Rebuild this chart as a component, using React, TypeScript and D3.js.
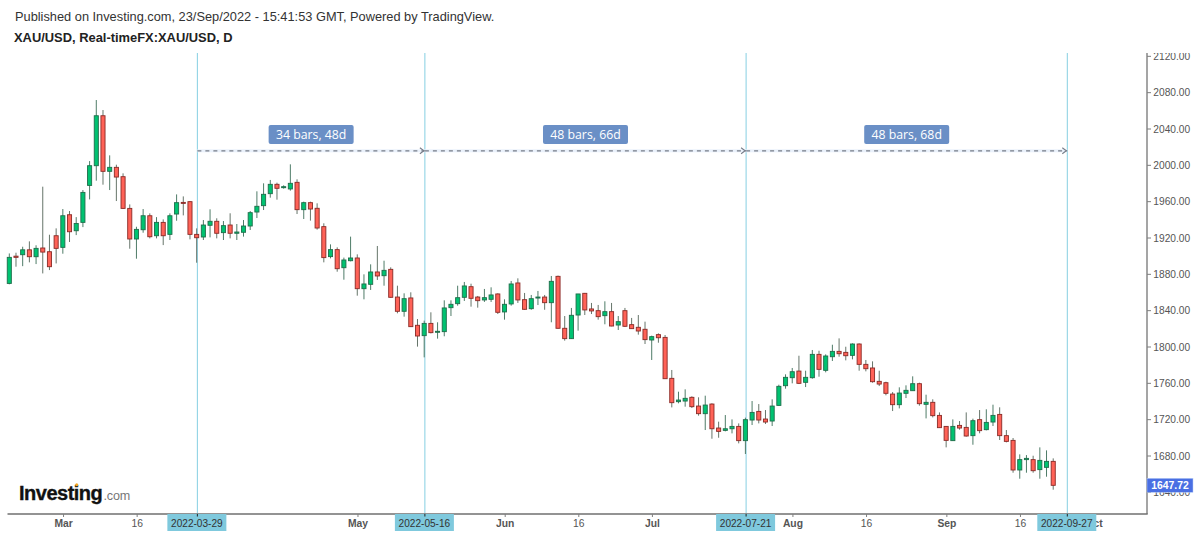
import * as d3 from "d3";

const opens = [
  1870, 1900, 1901.6, 1907, 1899.4, 1909, 1904.9, 1922.5, 1909.7, 1945.6,
  1928, 1937.2, 1977.9, 1999.6, 2054.6, 1993.4, 1997.8, 1987.5, 1952.6, 1918.9,
  1929.1, 1944.5, 1922.5, 1937.2, 1924, 1946.4, 1959.2, 1960, 1924, 1921.1,
  1934, 1938.4, 1925.9, 1934.3, 1925.2, 1926.3, 1933.2, 1948.6, 1955.6, 1968.8,
  1979.1, 1975.4, 1974, 1981.3, 1951.2, 1958.9, 1952.7, 1932.5, 1899.5, 1907.2,
  1887.3, 1895, 1898, 1864.2, 1869, 1882.6, 1878.5, 1885.5, 1855, 1839.3,
  1854, 1823.9, 1812.5, 1826, 1816.2, 1816.9, 1843.3, 1847.7, 1854.7, 1866.4,
  1855, 1851.8, 1852.5, 1858.4, 1838.6, 1847.4, 1870.5, 1852.1, 1842.2, 1854,
  1855, 1848.8, 1877.8, 1820.6, 1809.2, 1835.2, 1859.1, 1841.9, 1840, 1834.5,
  1838.9, 1824.2, 1840, 1824.6, 1821.7, 1819.5, 1807.7, 1813.6, 1810.6, 1765.5,
  1739.8, 1740.5, 1744.6, 1735, 1726.6, 1737.2, 1710.8, 1708.2, 1710, 1712.6,
  1696.9, 1719.6, 1729.1, 1720.7, 1718.5, 1735.7, 1757.4, 1766.2, 1773.5, 1761.1,
  1766.2, 1791.9, 1774.3, 1789.3, 1795.2, 1794.1, 1790.8, 1803.3, 1780.9, 1776.9,
  1762.2, 1760.7, 1748.2, 1736.5, 1749, 1751.9, 1759.6, 1736.9, 1739.1, 1724.7,
  1712.6, 1696.9, 1713.7, 1711.5, 1702.4, 1720, 1709, 1717.4, 1725.8, 1702.4,
  1697.2, 1664.6, 1676, 1676, 1665, 1667.5, 1674.1,
];
const highs = [
  1903, 1903.8, 1910.4, 1916.3, 1912, 1976.5, 1923.6, 1930.6, 1951.9, 1949.7,
  1943, 1972.8, 2004.7, 2071.9, 2060.9, 2011, 2000.7, 1991.2, 1957, 1932.4,
  1951.9, 1947.1, 1943, 1940.5, 1947.1, 1968, 1965.8, 1960.7, 1930.6, 1939.8,
  1951.6, 1941.7, 1938.7, 1947.2, 1935.4, 1939.8, 1949.7, 1971.4, 1980.2, 1983.9,
  1980.9, 1978, 2001.1, 1984.6, 1960, 1960, 1958.2, 1936.2, 1913, 1909.7,
  1898.4, 1921.5, 1902, 1880, 1891, 1911.2, 1895, 1887.7, 1867.5, 1859.1,
  1860.2, 1830.8, 1829, 1838.2, 1827.2, 1851.4, 1851.4, 1867.5, 1871.6, 1869.7,
  1856.2, 1863.9, 1865.7, 1859.1, 1852.5, 1872.7, 1875.6, 1859.5, 1857.3, 1861.7,
  1857.3, 1878.2, 1878.6, 1834.1, 1843, 1858.4, 1859.5, 1848.5, 1846.3, 1850.3,
  1848.5, 1834.1, 1843, 1832, 1835.2, 1827.9, 1812.5, 1815, 1813.2, 1774.7,
  1750.8, 1753.4, 1745.7, 1744.6, 1746.4, 1738, 1717.8, 1725.1, 1720.3, 1715.9,
  1722.2, 1740.5, 1737.2, 1730.6, 1742.4, 1758.5, 1769.9, 1776.9, 1790.4, 1773.9,
  1796.7, 1795.9, 1791.9, 1802.5, 1809.5, 1800.3, 1804, 1804, 1785.7, 1784.2,
  1773.9, 1761.8, 1750.4, 1755.6, 1757.8, 1767.7, 1760.7, 1747.5, 1742.4, 1728,
  1713, 1720.3, 1718.5, 1728, 1721.1, 1730.6, 1731.4, 1736.5, 1733.6, 1708.6,
  1699.8, 1681.8, 1681, 1680.3, 1689.5, 1686.2, 1677.4,
];
const lows = [
  1869, 1888.4, 1889, 1893.2, 1891.3, 1881, 1884.7, 1892, 1902.7, 1915.6,
  1923.2, 1932, 1962.5, 1983.1, 1978.7, 1972.8, 1960.7, 1952, 1908.2, 1897.2,
  1925.8, 1919.6, 1919.6, 1912.2, 1917.8, 1939, 1944.9, 1918.5, 1892.8, 1917.8,
  1920.7, 1919.6, 1917.8, 1919.6, 1917.8, 1921.5, 1928.8, 1942, 1950.8, 1964.4,
  1962.2, 1974.3, 1972.1, 1946.4, 1940.9, 1939.1, 1929.2, 1893.2, 1897.6, 1882.9,
  1874.1, 1894.3, 1856.5, 1852.5, 1862.8, 1873.8, 1867.5, 1854, 1837.1, 1833.4,
  1822, 1800.4, 1788.6, 1815, 1809.2, 1811.8, 1834.1, 1845.5, 1850.7, 1844.4,
  1843.3, 1849.6, 1849.6, 1836.3, 1830.1, 1845.5, 1848.5, 1841, 1841, 1846.2,
  1841, 1827.2, 1820.2, 1807, 1808.8, 1818, 1835.2, 1836.3, 1830.1, 1825,
  1822.8, 1818.7, 1822, 1820.2, 1813.6, 1803.3, 1785.7, 1804.7, 1765, 1733.5,
  1738, 1734.3, 1732.8, 1724.4, 1708.6, 1699, 1700.1, 1707.1, 1704.9, 1693.9,
  1682.2, 1714.1, 1715.9, 1715.2, 1713, 1735.4, 1754.1, 1760, 1759.2, 1755.9,
  1765.1, 1767.3, 1772.1, 1784.6, 1789.3, 1785.3, 1786.4, 1773.9, 1773.2, 1760.7,
  1757, 1746.8, 1729.5, 1732.4, 1743.8, 1751.9, 1735.4, 1721.4, 1722.5, 1711,
  1689.5, 1696.5, 1709, 1701.3, 1692.4, 1705, 1708.2, 1713, 1697.6, 1695,
  1661.6, 1655, 1661.6, 1661.6, 1655, 1657.2, 1642.9,
];
const closes = [
  1898.7, 1898.7, 1907, 1899.4, 1908.6, 1904.5, 1888.4, 1908.6, 1944.5, 1926.9,
  1936, 1970.2, 1999.6, 2054.6, 1993.4, 1997.8, 1987.1, 1952.6, 1918.9, 1929.5,
  1944.5, 1921.4, 1937.2, 1922.5, 1944.5, 1958.9, 1958.1, 1924, 1920.3, 1934.3,
  1938.4, 1925.2, 1933.6, 1925.2, 1926.6, 1933.2, 1947.9, 1954.9, 1968.1, 1979.1,
  1974.7, 1976.5, 1980.2, 1951.2, 1958.9, 1951.9, 1931, 1898.4, 1907.2, 1886.2,
  1895.8, 1898, 1864.2, 1869.4, 1882.6, 1878.2, 1884.4, 1854.7, 1839.3, 1853.2,
  1822.4, 1812.1, 1826, 1815.8, 1817.3, 1843, 1847, 1854.3, 1867.2, 1853.6,
  1851, 1854.3, 1857.3, 1838.2, 1847, 1869.4, 1851.8, 1841.5, 1853.2, 1855,
  1848.8, 1872.3, 1820.6, 1809.2, 1834.9, 1858.4, 1840.8, 1839.7, 1833.4, 1838.9,
  1823.1, 1827.9, 1822.8, 1820.2, 1817.6, 1808.1, 1811.4, 1810.2, 1765.1, 1738.7,
  1741.6, 1743.5, 1734.3, 1726.6, 1736.1, 1710, 1707.1, 1710, 1712.6, 1696.9,
  1720, 1728, 1719.6, 1717.4, 1735, 1756.7, 1766.6, 1772.8, 1760, 1766.6,
  1791.9, 1775.4, 1790.1, 1795.2, 1792.6, 1790.4, 1803.3, 1780.9, 1776.1, 1761.8,
  1759.2, 1749, 1736.5, 1749.3, 1752.3, 1759.6, 1737.6, 1739.1, 1724.4, 1711.2,
  1697.2, 1712.6, 1710.8, 1702, 1718.9, 1707.9, 1717, 1724.7, 1702.4, 1696.1,
  1664.6, 1676, 1677.4, 1663.8, 1675.2, 1674.1, 1647.72,
];

const priceTicks = d3.range(1640, 2121, 40);
const timeLabels = ["Mar", "16", "May", "Jun", "16", "Jul", "Aug", "16", "Sep", "16", "Oct"];
const timeBars = [8, 19, 52, 74, 85, 96, 117, 128, 140, 151, 162];
const timeBold = [true, false, true, true, false, true, true, false, true, false, true];
const markerBars = [28, 62, 110, 158];
const markerDates = ["2022-03-29", "2022-05-16", "2022-07-21", "2022-09-27"];
const rangeLabels = ["34 bars, 48d", "48 bars, 66d", "48 bars, 68d"];
const rangePrice = 2016;
const rangeLabelPrice = 2034;
const lastPrice = 1647.72;

const sans = "'Liberation Sans', Arial, sans-serif";

export default function App() {
  const plotTop = 53;
  const plotBottom = 514;
  const plotRight = 1147;
  const x = d3.scaleLinear().domain([0, 158]).range([10, 1067.3]);
  const y = d3.scaleLinear().domain([1680, 2080]).range([456, 92.67]);
  const barOffset = -0.7;
  const bodyWidth = 4.1;

  return (
    <svg
      width={1200}
      height={536}
      viewBox="0 0 1200 536"
      style={{ position: "absolute", left: 0, top: 0, background: "#fff" }}
      fontFamily={sans}
    >
      <defs>
        <clipPath id="axis-clip">
          <rect x={plotRight} y={plotTop} width={53} height={plotBottom - plotTop} />
        </clipPath>
      </defs>

      <text x={15} y={20.5} fontSize={12.8} fill="#333">
        Published on Investing.com, 23/Sep/2022 - 15:41:53 GMT, Powered by TradingView.
      </text>
      <text x={14} y={42} fontSize={12.9} fontWeight="bold" fill="#222">
        XAU/USD, Real-timeFX:XAU/USD, D
      </text>

      {/* logo */}
      <text
        x={19}
        y={499.5}
        fontSize={20}
        fontWeight="bold"
        fill="#111"
        stroke="#111"
        strokeWidth={0.35}
        letterSpacing={-0.5}
      >
        Investing
      </text>
      <text x={103.5} y={499.5} fontSize={12.6} fill="#777" letterSpacing={-0.2}>
        .com
      </text>
      <circle cx={76.7} cy={484.8} r={1.5} fill="#f5a623" />

      {/* measure lines */}
      {markerBars.map((bar) => (
        <line
          key={bar}
          x1={x(bar)}
          x2={x(bar)}
          y1={plotTop}
          y2={plotBottom}
          stroke="#86cfe2"
          strokeWidth={1}
        />
      ))}
      {rangeLabels.map((label, i) => {
        const x0 = x(markerBars[i]);
        const x1 = x(markerBars[i + 1]);
        const yy = y(rangePrice);
        const mid = (x0 + x1) / 2;
        const ly = y(rangeLabelPrice);
        return (
          <g key={label}>
            <rect x={x0} y={yy - 1.5} width={x1 - x0} height={3} fill="#eaf1fb" />
            <line x1={x0} x2={x1} y1={yy} y2={yy} stroke="#767c88" strokeWidth={1.3} strokeDasharray="4 4" />
            <path
              d={`M${x1 - 5},${yy - 3} L${x1 - 1},${yy} L${x1 - 5},${yy + 3}`}
              fill="none"
              stroke="#767c88"
              strokeWidth={1.1}
            />
            <rect x={mid - 42.5} y={ly - 9.5} width={85} height={19} rx={2} fill="#6a8fc6" />
            <text
              x={mid}
              y={ly + 4.3}
              textAnchor="middle"
              fontSize={12.3}
              fontFamily="'Open Sans', sans-serif"
              fontWeight={500}
              fill="#fff"
            >
              {label}
            </text>
          </g>
        );
      })}

      {/* candles */}
      {closes.map((close, i) => {
        const up = close >= opens[i];
        const cx = x(i) + barOffset;
        const top = y(Math.max(opens[i], close));
        const bottom = y(Math.min(opens[i], close));
        return (
          <g key={i}>
            <line
              x1={cx}
              x2={cx}
              y1={y(highs[i])}
              y2={y(lows[i])}
              stroke={up ? "#4f7c68" : "#66756a"}
              strokeWidth={1}
            />
            <rect
              x={cx - bodyWidth / 2}
              y={top}
              width={bodyWidth}
              height={Math.max(bottom - top, 1)}
              fill={up ? "#00c271" : "#ff6257"}
              stroke={up ? "#1f6d4a" : "#8a2a26"}
              strokeWidth={0.9}
            />
          </g>
        );
      })}

      {/* price axis */}
      <g clipPath="url(#axis-clip)">
        {priceTicks.map((tick) => (
          <g key={tick}>
            <line x1={plotRight} x2={plotRight + 4} y1={y(tick)} y2={y(tick)} stroke="#7f7f7f" />
            <text x={1153.3} y={y(tick) + 3.6} fontSize={10.2} fill="#555">
              {tick.toFixed(2)}
            </text>
          </g>
        ))}
      </g>
      <line x1={plotRight} x2={plotRight} y1={plotTop} y2={plotBottom} stroke="#7f7f7f" strokeWidth={1.4} />

      {/* time axis */}
      <line x1={7.5} x2={plotRight + 0.7} y1={plotBottom} y2={plotBottom} stroke="#6f6f6f" strokeWidth={1.3} />
      {timeLabels.map((label, i) => (
        <g key={`${label}-${i}`}>
          <line x1={x(timeBars[i])} x2={x(timeBars[i])} y1={plotBottom} y2={plotBottom + 3} stroke="#7f7f7f" />
          <text
            x={x(timeBars[i])}
            y={527}
            textAnchor="middle"
            fontSize={10.3}
            fontWeight={timeBold[i] ? "bold" : "normal"}
            fill="#555"
          >
            {label}
          </text>
        </g>
      ))}

      {/* marker date labels */}
      {markerBars.map((bar, i) => (
        <g key={markerDates[i]}>
          <rect x={x(bar) - 30} y={plotBottom} width={59} height={17} fill="#7fc9dd" />
          <line x1={x(bar)} x2={x(bar)} y1={plotBottom} y2={plotBottom + 2.5} stroke="#222" />
          <text x={x(bar) - 0.5} y={527} textAnchor="middle" fontSize={10.1} fill="#333">
            {markerDates[i]}
          </text>
        </g>
      ))}

      {/* last price */}
      <rect
        x={plotRight}
        y={y(lastPrice) - 7}
        width={46}
        height={14}
        fill="#4a6fe3"
        stroke="#bcd0f5"
        strokeWidth={0.5}
      />
      <text
        x={plotRight + 23}
        y={y(lastPrice) + 3.7}
        textAnchor="middle"
        fontSize={10.4}
        fontWeight="bold"
        fill="#fff"
      >
        {lastPrice.toFixed(2)}
      </text>
    </svg>
  );
}
